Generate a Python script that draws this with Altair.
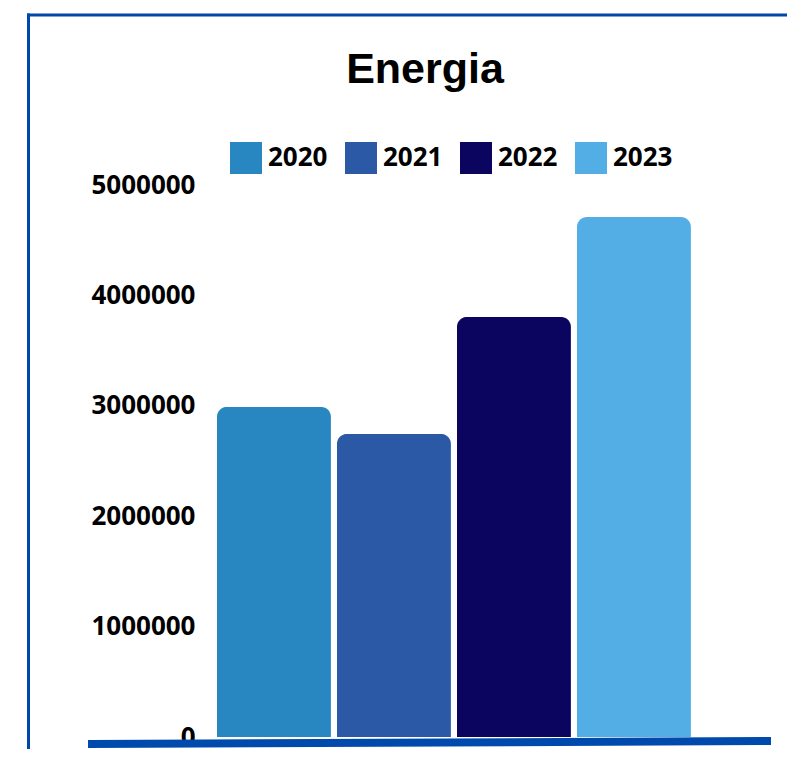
import altair as alt
import pandas as pd

# ---- data ----
years = ["2020", "2021", "2022", "2023"]
values = [2990000, 2745000, 3805000, 4710000]
colors = ["#2887C0", "#2B59A6", "#0B0560", "#52AEE5"]
y_ticks = [0, 1000000, 2000000, 3000000, 4000000, 5000000]
title_text = ["Energia"]

df = pd.DataFrame({"year": years, "value": values})
one = pd.DataFrame({"t": title_text})

W, H = 684, 552
FRAME = "#0047AB"

bars = alt.Chart(df).mark_bar(cornerRadiusTopLeft=10, cornerRadiusTopRight=10).encode(
    x=alt.X("year:N", sort=years,
            scale=alt.Scale(paddingInner=0.05, paddingOuter=0.875, align=0.614),
            axis=None),
    y=alt.Y("value:Q", scale=alt.Scale(domain=[0, 5000000], nice=False),
            axis=alt.Axis(values=y_ticks, format="d", title=None, grid=False,
                          domain=False, ticks=False, tickSize=0, labelPadding=0,
                          offset=-107, labelFont="Open Sans", labelFontWeight="bold",
                          labelFontSize=26, labelColor="black")),
    color=alt.Color("year:N", sort=years,
                    scale=alt.Scale(domain=years, range=colors),
                    legend=alt.Legend(orient="none", legendX=142, legendY=-43,
                                      direction="horizontal", title=None,
                                      symbolType="square", symbolSize=1024,
                                      symbolStrokeWidth=0, symbolOpacity=1,
                                      labelFont="Open Sans", labelFontWeight="bold",
                                      labelFontSize=26, labelColor="black",
                                      labelOffset=6, columnPadding=17)),
)

baseline = alt.Chart(one).mark_rule(color="#004AAD", strokeWidth=8).encode(
    x=alt.value(0), x2=alt.value(683), y=alt.value(559), y2=alt.value(556)
)

frame_left = alt.Chart(one).mark_rule(color=FRAME, strokeWidth=3).encode(
    x=alt.value(-59.5), y=alt.value(-171.5), y2=alt.value(600)
)
frame_top = alt.Chart(one).mark_rule(color=FRAME, strokeWidth=3).encode(
    y=alt.value(-170), x=alt.value(-61), x2=alt.value(720)
)

title = alt.Chart(one).mark_text(font="Liberation Sans", fontWeight="bold",
                                 fontSize=43, color="black", align="center",
                                 baseline="alphabetic").encode(
    text="t:N", x=alt.value(337), y=alt.value(-102)
)

chart = alt.layer(bars, baseline, frame_left, frame_top, title).properties(
    width=W, height=H,
    autosize=alt.AutoSizeParams(type="none"),
    padding={"left": 80, "top": 177, "right": 15, "bottom": 12},
    background="white",
).configure_view(strokeWidth=0)

chart.save("out.html", embed_options={"renderer": "svg", "actions": False})
